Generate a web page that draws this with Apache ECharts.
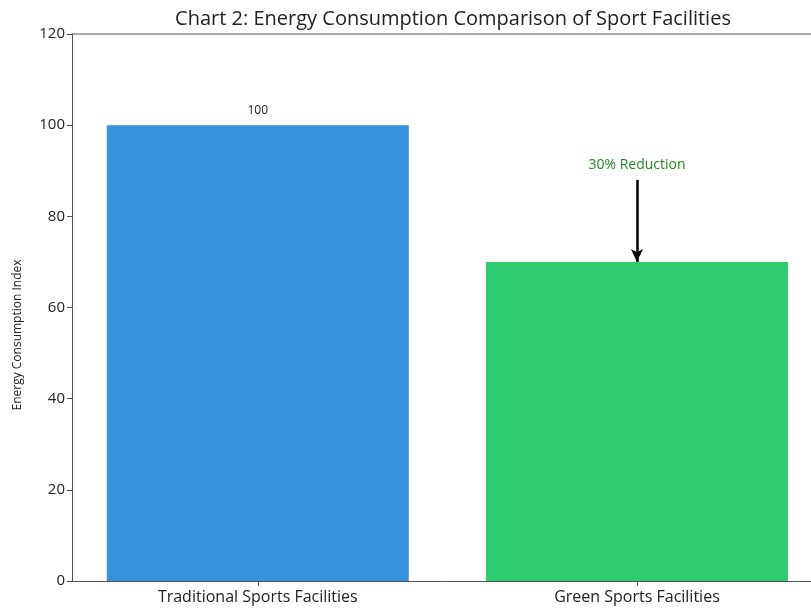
<!DOCTYPE html>
<html>
<head>
<meta charset="utf-8">
<script src="https://cdn.jsdelivr.net/npm/echarts@6/dist/echarts.min.js"></script>
<style>
  html, body { margin: 0; padding: 0; background: #fff; }
  #chart { width: 811px; height: 610px; }
</style>
</head>
<body>
<div id="chart"></div>
<script>
// chart data
const categories = ['Traditional Sports Facilities', 'Green Sports Facilities'];
const consumption = [100, 70];
const barColors = ['#3592dc', '#2ecc71'];
const yTicks = [0, 20, 40, 60, 80, 100, 120];
const arrowFrom = 88;   // annotation text sits above this value
const arrowLabel = '30% Reduction';

const FONT = '"Open Sans", Lato, sans-serif';

const chart = echarts.init(document.getElementById('chart'));

const option = {
  animation: false,
  title: {
    text: 'Chart 2: Energy Consumption Comparison of Sport Facilities',
    left: 448,
    textAlign: 'center',
    top: 4,
    textStyle: { fontFamily: FONT, fontSize: 20, fontWeight: 'normal', color: '#222' }
  },
  // plot runs past the right edge of the picture, so x max is cut at the edge
  grid: { left: 72, top: 34, right: 0, height: 547 },
  xAxis: {
    type: 'value',
    min: -0.49,
    max: 1.459,
    splitLine: { show: false },
    axisLine: { onZero: false, lineStyle: { color: '#555', width: 1 } },
    axisTick: { show: true, customValues: [0, 1], length: 5, lineStyle: { color: '#555' } },
    axisLabel: {
      customValues: [0, 1],
      formatter: v => categories[Math.round(v)],
      fontFamily: FONT, fontSize: 16, color: '#222', margin: 8
    }
  },
  yAxis: {
    type: 'value',
    min: yTicks[0],
    max: yTicks[yTicks.length - 1],
    interval: 20,
    splitLine: { show: false },
    axisLine: { show: true, onZero: false, lineStyle: { color: '#555', width: 1 } },
    axisTick: { show: true, length: 5, lineStyle: { color: '#555' } },
    axisLabel: { fontFamily: FONT, fontSize: 15, color: '#222', margin: 7 }
  },
  graphic: [
    // top spine
    { type: 'line', shape: { x1: 72, y1: 34, x2: 811, y2: 34 }, style: { stroke: '#555', lineWidth: 1 } },
    {
      type: 'text', x: 18, y: 335, rotation: Math.PI / 2,
      style: {
        text: 'Energy Consumption Index', fontFamily: FONT, fontSize: 12, fill: '#222',
        align: 'center', verticalAlign: 'middle'
      }
    }
  ],
  series: [{
    type: 'bar',
    barWidth: 302,
    data: consumption.map((v, i) => ({
      value: [i, v],
      itemStyle: { color: barColors[i] },
      label: { show: i === 0 }
    })),
    label: {
      position: 'top', distance: 9, formatter: p => p.value[1],
      fontFamily: FONT, fontSize: 12, color: '#222'
    },
    markLine: {
      silent: true,
      symbol: ['none', 'arrow'],
      symbolSize: [9, 13],
      lineStyle: { color: '#000', width: 2.5, type: 'solid' },
      label: {
        show: true, position: 'start', distance: 8, formatter: arrowLabel,
        fontFamily: FONT, fontSize: 14, color: '#1e8a1e'
      },
      data: [[{ coord: [1, arrowFrom] }, { coord: [1, consumption[1]] }]]
    }
  }]
};

chart.setOption(option);
</script>
</body>
</html>
